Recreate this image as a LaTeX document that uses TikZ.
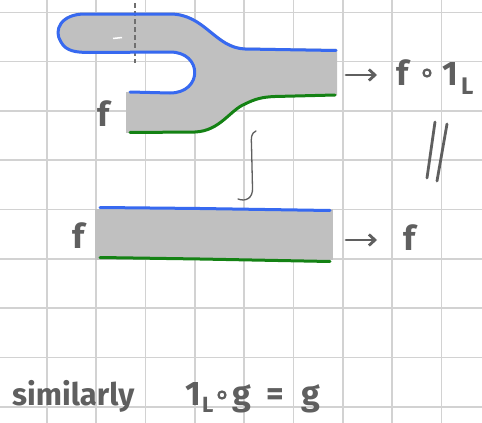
\documentclass[tikz,border=0pt]{standalone}
\usepackage{fontspec}
\setmainfont{Fira Sans}
\usetikzlibrary{arrows.meta}
\definecolor{gridc}{RGB}{210,210,210}
\definecolor{inkc}{RGB}{95,95,95}
\definecolor{bluec}{RGB}{55,105,240}
\definecolor{greenc}{RGB}{20,130,20}
\definecolor{fillc}{RGB}{192,192,192}
\tikzset{
  gridline/.style={draw=gridc, line width=1.6pt},
  bluedge/.style={draw=bluec, line width=3pt, line cap=round, line join=round},
  greenedge/.style={draw=greenc, line width=3pt, line cap=round, line join=round},
  inkline/.style={draw=inkc, line width=2.8pt, line cap=round},
  thinink/.style={draw=inkc, line width=1.3pt, line cap=round},
  label/.style={text=inkc, inner sep=0pt, font=\fontsize{34}{36}\selectfont\bfseries},
  small/.style={text=inkc, inner sep=0pt, font=\fontsize{31}{33}\selectfont\bfseries},
}
\begin{document}
\begin{tikzpicture}[x=1pt,y=-1pt]
\useasboundingbox (0,0) rectangle (482,423);
\fill[white] (0,0) rectangle (482,423);
% grid
\foreach \i in {0,...,8} {
  \path[gridline] ({46.7+49.35*\i},0) -- ({46.7+49.35*\i},423);
}
\foreach \j in {0,...,8} {
  \path[gridline] (0,{12.3+49.3*\j}) -- (482,{12.3+49.3*\j});
}
% upper shape fill
\fill[fillc] (337,49) -- (245,47.5) .. controls (215,46) and (205,12.5) .. (170,12.5) -- (85,12.5)
  .. controls (60,12.5) and (52,30) .. (60,42) .. controls (65,52) and (75,53.5) .. (90,53.5)
  -- (170,53) .. controls (205,53) and (205,93) .. (170,93) -- (126,92)
  -- (126,133) -- (195,132.5) .. controls (220,131.5) and (230,110) .. (245,104)
  .. controls (255,99) and (262,97.5) .. (275,97) -- (337,95.5) -- cycle;
% dashed line
\draw[draw=inkc!90, line width=1.3pt, dash pattern=on 5pt off 3pt] (135,3) -- (135,63);
\draw[white, line width=1.5pt] (113,38.5) -- (122,37.5);
% blue top edge
\path[bluedge] (336,50.5) -- (245,49) .. controls (215,48) and (205,14) .. (170,14) -- (85,14)
  .. controls (61,14) and (53,30) .. (61,42) .. controls (66,51) and (75,52.5) .. (90,52.5)
  -- (170,52) .. controls (203,52) and (203,93) .. (170,93) -- (130,92);
% green bottom edge
\path[greenedge] (130,132.5) -- (195,132) .. controls (220,131) and (230,110) .. (245,104)
  .. controls (255,99) and (262,97) .. (275,96.5) -- (335,95);
% labels upper
\node[label, anchor=base] (f1) at (104,126) {f};
\coordinate (a1s) at (346,75);
\coordinate (a1e) at (377,75);
\draw[inkline, -{Straight Barb[length=6pt,width=11pt]}] (a1s) -- (a1e);
\node[label, anchor=base west] (fo) at (396,85) {f};
\draw[draw=inkc, line width=2.2pt] (427,73) circle (3.5);
\node[label, anchor=base west] (one) at (442,85) {1};
\node[label, anchor=base west, font=\fontsize{24}{26}\selectfont\bfseries] (Lsub) at (461,94) {L};
% equals sign (two slanted strokes)
\path[inkline] (435,122) -- (427,178);
\path[inkline] (447,124) -- (437,181);
% integral-like squiggle
\path[thinink] (256,131) .. controls (251,133) and (251,138) .. (251.5,145)
  -- (252.5,188) .. controls (253,198) and (246,202) .. (238,199);
% lower rectangle
\fill[fillc] (95,209) rectangle (333,260);
\path[bluedge] (100,207.5) -- (200,208.5) -- (330,210.5);
\path[greenedge] (100,257.5) -- (200,259) -- (330,261.5);
\node[label, anchor=base] (f2) at (79,248) {f};
\coordinate (a2s) at (346,240);
\coordinate (a2e) at (377,240);
\draw[inkline, -{Straight Barb[length=6pt,width=11pt]}] (a2s) -- (a2e);
\node[label, anchor=base west] (f3) at (403,250) {f};
% bottom text
\node[small, anchor=base west] (sim) at (12,405) {similarly};
\node[label, anchor=base west] (one2) at (185,405) {1};
\node[label, anchor=base west, font=\fontsize{22}{24}\selectfont\bfseries] (L2) at (202,412) {L};
\draw[draw=inkc, line width=2.2pt] (222,395) circle (3.5);
\node[label, anchor=base west] (g1) at (232,405) {g};
\node[label, anchor=base west] (eq) at (266,405) {=};
\node[label, anchor=base west] (g2) at (301,405) {g};
\end{tikzpicture}
\end{document}
